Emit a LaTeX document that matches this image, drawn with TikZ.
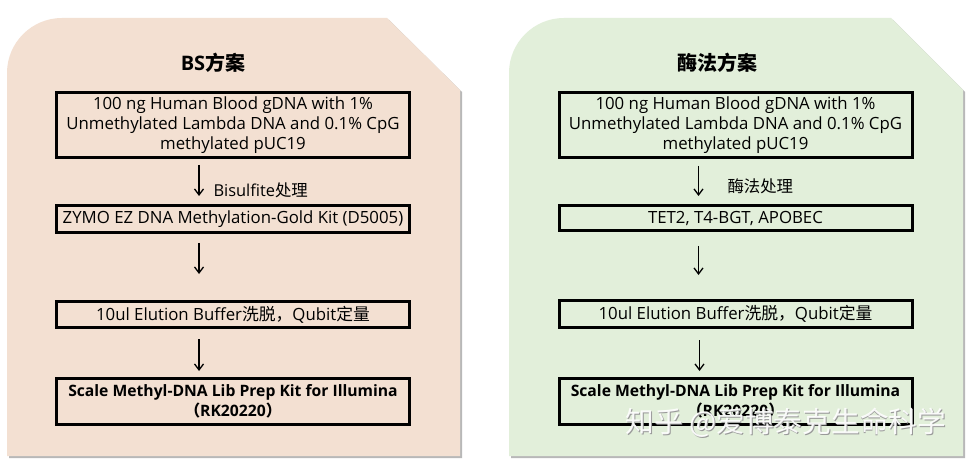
\documentclass[tikz,border=0pt]{standalone}
\usepackage{fontspec}
\setmainfont{Open Sans}
\newfontfamily\cjk{Noto Sans CJK SC}
\usetikzlibrary{arrows.meta}
\definecolor{peach}{HTML}{F3E0D2}
\definecolor{mint}{HTML}{E2EFDA}
\begin{document}
\begin{tikzpicture}[x=1pt,y=-1pt,
  panelshadow/.style={fill=black!28},
  box/.style={draw=black, line width=3pt, minimum width=353pt, align=center, inner sep=0pt,
    font=\fontsize{16.8}{20}\selectfont},
  boldtext/.style={font=\fontsize{15.7}{20}\selectfont\bfseries},
  arr/.style={-{Straight Barb[length=6pt,width=9pt,line width=1.3pt]}, line width=1.4pt},
  title/.style={font=\fontsize{20}{24}\selectfont\bfseries},
  lab/.style={anchor=west, font=\fontsize{16.4}{18}\selectfont}]
\useasboundingbox[fill=white] (0,0) rectangle (972,465);
% panels
\fill[panelshadow, shift={(2,2)}] (7,456) [rounded corners=55pt] -- (7,18) [sharp corners] -- (387,18) -- (460,90) -- (460,456) -- cycle;
\fill[peach] (7,456) [rounded corners=55pt] -- (7,18) [sharp corners] -- (387,18) -- (460,90) -- (460,456) -- cycle;
\fill[panelshadow, shift={(2,2)}] (509,456) [rounded corners=55pt] -- (509,18) [sharp corners] -- (891,18) -- (963,90) -- (963,456) -- cycle;
\fill[mint] (509,456) [rounded corners=55pt] -- (509,18) [sharp corners] -- (891,18) -- (963,90) -- (963,456) -- cycle;
% left
\node[title] (lt) at (213,63) {BS{\cjk 方案}};
\node[box, minimum height=65pt] (l1) at (233,125) {100 ng Human Blood gDNA with 1\%\\Unmethylated Lambda DNA and 0.1\% CpG\\methylated pUC19};
\node[box, minimum height=27pt] (l2) at (233,219) {ZYMO EZ DNA Methylation-Gold Kit (D5005)};
\node[box, minimum height=26pt] (l3) at (233,314.5) {10ul Elution Buffer{\cjk 洗脱，}Qubit{\cjk 定量}};
\node[box, boldtext, minimum height=46pt] (l4) at (233,401.5) {Scale Methyl-DNA Lib Prep Kit for Illumina\\{\cjk\bfseries （}RK20220{\cjk\bfseries ）}};
\node[lab] (llab) at (210,190) {Bisulfite{\cjk 处理}};
\draw[arr, shorten <=6pt, shorten >=8pt] ([xshift=-34pt]l1.south) -- ([xshift=-34pt]l2.north);
\draw[arr, shorten <=9pt, shorten >=26pt] ([xshift=-34pt]l2.south) -- ([xshift=-34pt]l3.north);
\draw[arr, shorten <=10pt, shorten >=6pt] ([xshift=-34pt]l3.south) -- ([xshift=-34pt]l4.north);
% right
\node[title] (rt) at (717,63) {\cjk\bfseries 酶法方案};
\node[box, minimum height=65pt] (r1) at (735.5,125) {100 ng Human Blood gDNA with 1\%\\Unmethylated Lambda DNA and 0.1\% CpG\\methylated pUC19};
\node[box, minimum height=25pt] (r2) at (735.5,218) {TET2, T4-BGT, APOBEC};
\node[box, minimum height=27pt] (r3) at (735.5,314) {10ul Elution Buffer{\cjk 洗脱，}Qubit{\cjk 定量}};
\node[box, boldtext, minimum height=46pt] (r4) at (735.5,401.5) {Scale Methyl-DNA Lib Prep Kit for Illumina\\{\cjk\bfseries （}RK20220{\cjk\bfseries ）}};
\node[lab, font=\cjk\fontsize{16.4}{18}\selectfont] (rlab) at (724,186) {酶法处理};
\draw[arr, shorten <=7pt, shorten >=8pt] ([xshift=-37pt]r1.south) -- ([xshift=-37pt]r2.north);
\draw[arr, shorten <=14pt, shorten >=24pt] ([xshift=-37pt]r2.south) -- ([xshift=-37pt]r3.north);
\draw[arr, shorten <=11pt, shorten >=6pt] ([xshift=-36pt]r3.south) -- ([xshift=-36pt]r4.north);
% watermark
\node[anchor=west, text=black!40, font=\cjk\fontsize{28.7}{29}\selectfont] (wms) at (622.8,423.8) {知乎 @爱博泰克生命科学};
\node[anchor=west, text=white, opacity=0.92, font=\cjk\fontsize{28.7}{29}\selectfont] (wm) at (622,423) {知乎 @爱博泰克生命科学};
\end{tikzpicture}
\end{document}
